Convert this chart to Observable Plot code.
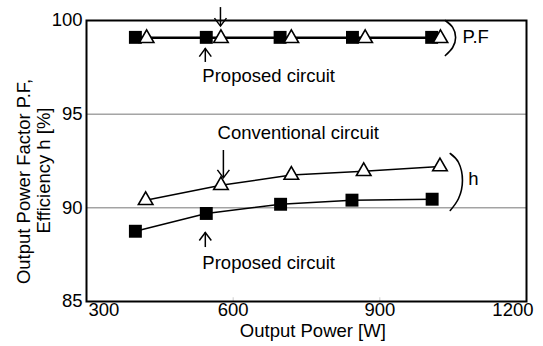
<!DOCTYPE html>
<html><head><meta charset="utf-8">
<script src="https://cdn.jsdelivr.net/npm/d3@7"></script>
<script src="https://cdn.jsdelivr.net/npm/@observablehq/plot@0.6"></script>
<style>
html,body{margin:0;padding:0;background:#fff;}
svg{font-family:"Liberation Sans",Arial,sans-serif;}
</style></head>
<body><div id="chart"></div>
<script>
const xTicks = [300, 600, 900, 1200];
const yTicks = [85, 90, 95, 100];
const gridY = [90, 95];

// Power factor
const pfSquareX = [400, 545, 696, 844, 1006];
const pfSquareY = [99.1, 99.1, 99.1, 99.1, 99.1];
const pfTriX = [423, 575, 719, 870, 1024];
const pfTriY = [99.05, 99.05, 99.05, 99.05, 99.05];

// Efficiency
const effTriX = [421, 575, 719, 867, 1023];
const effTriY = [90.4, 91.2, 91.75, 91.95, 92.2];
const effSqX = [400, 545, 697, 843, 1007];
const effSqY = [88.75, 89.7, 90.19, 90.41, 90.46];

// annotations (data units)
const arrows = [
  {x: 574, y1: 100.69, y2: 99.7, dir: "down"},
  {x: 543, y1: 97.76, y2: 98.5, dir: "up"},
  {x: 580, y1: 93.06, y2: 91.6, dir: "down"},
  {x: 543, y1: 87.88, y2: 88.68, dir: "up"}
];
const labels = [
  {x: 537, y: 97.05, text: "Proposed circuit"},
  {x: 568, y: 93.97, text: "Conventional circuit"},
  {x: 537, y: 87.03, text: "Proposed circuit"},
  {x: 1069, y: 99.09, text: "P.F"},
  {x: 1081, y: 91.56, text: "h"}
];
const pfBracketX = [1034, 1049, 1055, 1049, 1034];
const pfBracketY = [100, 99.63, 99.09, 98.56, 98.13];
const hBracketX = [1044, 1061, 1069, 1061, 1044];
const hBracketY = [92.9, 92.42, 91.46, 90.5, 89.86];

const xLabel = [{x: 763, text: "Output Power [W]"}];
const yLabels = [
  {y: 91.41, text: "Output Power Factor P.F,"},
  {y: 91.99, text: "Efficiency h [%]"}
];

const pts = (xs, ys) => xs.map((x, i) => ({x, y: ys[i]}));
const fs = 18.5;

const headDown = {draw(c) { c.moveTo(-6, -8); c.lineTo(0, 0); c.lineTo(6, -8); }};
const headUp = {draw(c) { c.moveTo(-6, 8); c.lineTo(0, 0); c.lineTo(6, 8); }};

const chart = Plot.plot({
  width: 543, height: 346,
  marginLeft: 86, marginRight: 17, marginTop: 20, marginBottom: 45,
  x: {domain: [300, 1200], axis: null},
  y: {domain: [85, 100], axis: null},
  style: {fontFamily: '"Liberation Sans", Arial, sans-serif', fontSize: fs + "px", color: "black", overflow: "visible"},
  marks: [
    Plot.ruleY(gridY, {stroke: "#777", strokeWidth: 1}),
    Plot.ruleX([600, 900], {y1: 85, y2: 85.2, stroke: "#ccc"}),
    Plot.axisY({ticks: yTicks, tickSize: 0, tickPadding: 4, label: null, fontSize: fs}),
    Plot.text([xTicks[0]], {x: d => d, text: d => String(d), frameAnchor: "bottom", dy: 14, textAnchor: "start", dx: 2, fontSize: fs}),
    Plot.text(xTicks.slice(1, 3), {x: d => d, text: d => String(d), frameAnchor: "bottom", dy: 14, fontSize: fs}),
    Plot.text([xTicks[3]], {x: d => d, text: d => String(d), frameAnchor: "bottom", dy: 14, textAnchor: "end", dx: 7, fontSize: fs}),
    Plot.text(xLabel, {x: "x", text: "text", frameAnchor: "bottom", dy: 35, fontSize: fs}),
    Plot.text(yLabels.slice(0, 1), {y: "y", text: "text", frameAnchor: "left", textAnchor: "middle", dx: -62, rotate: -90, fontSize: fs}),
    Plot.text(yLabels.slice(1), {y: "y", text: "text", frameAnchor: "left", textAnchor: "middle", dx: -42, rotate: -90, fontSize: fs}),
    Plot.line(pts(pfSquareX, pfSquareY), {x: "x", y: "y", stroke: "black", strokeWidth: 1.5}),
    Plot.line(pts(pfTriX, pfTriY), {x: "x", y: "y", stroke: "black", strokeWidth: 1.5}),
    Plot.line(pts(effTriX, effTriY), {x: "x", y: "y", stroke: "black", strokeWidth: 1.5}),
    Plot.line(pts(effSqX, effSqY), {x: "x", y: "y", stroke: "black", strokeWidth: 1.5}),
    Plot.dot(pts(pfSquareX, pfSquareY), {x: "x", y: "y", symbol: "square", r: 7.3, fill: "black", stroke: "none"}),
    Plot.dot(pts(pfTriX, pfTriY), {x: "x", y: "y", symbol: "triangle", r: 5.4, fill: "white", stroke: "black", strokeWidth: 1.6}),
    Plot.dot(pts(effSqX, effSqY), {x: "x", y: "y", symbol: "square", r: 7.3, fill: "black", stroke: "none"}),
    Plot.dot(pts(effTriX, effTriY), {x: "x", y: "y", symbol: "triangle", r: 5.4, fill: "white", stroke: "black", strokeWidth: 1.6}),
    Plot.ruleX(arrows, {x: "x", y1: "y1", y2: "y2", stroke: "black", strokeWidth: 1.5}),
    Plot.dot(arrows.filter(d => d.dir === "down"), {x: "x", y: "y2", symbol: headDown, fill: "none", stroke: "black", strokeWidth: 1.5}),
    Plot.dot(arrows.filter(d => d.dir === "up"), {x: "x", y: "y2", symbol: headUp, fill: "none", stroke: "black", strokeWidth: 1.5}),
    Plot.text(labels, {x: "x", y: "y", text: "text", textAnchor: "start", fontSize: fs}),
    Plot.line(pts(pfBracketX, pfBracketY), {x: "x", y: "y", curve: "natural", stroke: "black", strokeWidth: 1.6}),
    Plot.line(pts(hBracketX, hBracketY), {x: "x", y: "y", curve: "natural", stroke: "black", strokeWidth: 1.6}),
    Plot.frame({stroke: "black", strokeWidth: 2})
  ]
});
document.getElementById("chart").appendChild(chart);
</script>
</body></html>
